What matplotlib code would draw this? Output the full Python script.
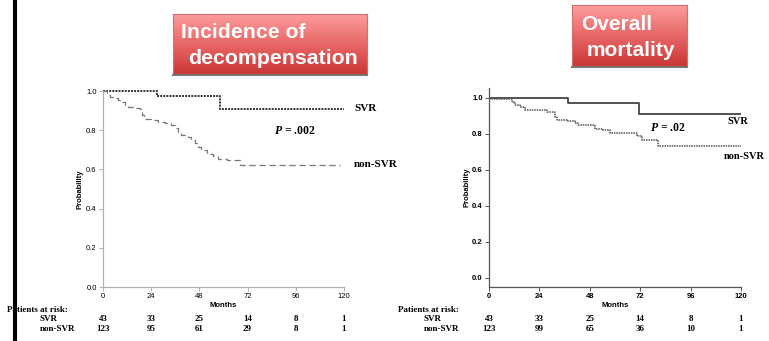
import numpy as np
import matplotlib
matplotlib.use("Agg")
import matplotlib.pyplot as plt
from matplotlib.colors import LinearSegmentedColormap

W, H = 769, 341

# left panel: incidence of decompensation
dec_svr_t = [0, 27, 58.4, 120]
dec_svr_s = [1.0, 0.973, 0.91, 0.91]
dec_non_t = [0, 1.8, 3.5, 5.1, 7.6, 9.5, 11, 12.6, 16, 18.4, 19.3, 20.4, 24, 27.5, 31, 34,
             36, 37.5, 39, 42.5, 44, 46, 47.5, 49, 51.6, 55, 57.4, 61.6, 68.4, 118]
dec_non_s = [1.0, 0.98, 0.97, 0.963, 0.954, 0.945, 0.925, 0.918, 0.912, 0.908, 0.878, 0.857,
             0.85, 0.843, 0.835, 0.827, 0.81, 0.79, 0.775, 0.767, 0.75, 0.733, 0.716, 0.70,
             0.68, 0.67, 0.653, 0.648, 0.625, 0.625]

# right panel: overall mortality
mor_svr_t = [0, 37.7, 71.6, 120]
mor_svr_s = [1.0, 0.972, 0.908, 0.908]
mor_non_t = [0, 11, 12.4, 14.8, 17, 27.4, 31.4, 32.2, 37, 41, 42.5, 50.5, 54.5, 57.6, 70.3,
             72.7, 80.7, 120]
mor_non_s = [0.995, 0.975, 0.963, 0.95, 0.935, 0.92, 0.894, 0.88, 0.87, 0.863, 0.848, 0.83,
             0.82, 0.806, 0.786, 0.766, 0.733, 0.733]

months = [0, 24, 48, 72, 96, 120]
dec_risk_svr = [43, 33, 25, 14, 8, 1]
dec_risk_non = [123, 95, 61, 29, 8, 1]
mor_risk_svr = [43, 33, 25, 14, 8, 1]
mor_risk_non = [123, 99, 65, 36, 10, 1]

SANS = "Liberation Sans"
SERIF = "Liberation Serif"
plt.rcParams["mathtext.fontset"] = "custom"
plt.rcParams["mathtext.it"] = "Liberation Serif:italic:bold"
plt.rcParams["mathtext.rm"] = "Liberation Serif:bold"

fig = plt.figure(figsize=(W / 100, H / 100), dpi=100)


def px(x, y):
    # pixel coords (top-left origin) -> figure fraction
    return x / W, 1 - y / H


def box(x0, y0, x1, y1):
    return [x0 / W, 1 - y1 / H, (x1 - x0) / W, (y1 - y0) / H]


def km_axes(rect, ylim, spine_col, tick_bold, ypad):
    ax = fig.add_axes(rect)
    ax.set_xlim(0, 120)
    ax.set_ylim(*ylim)
    for s in ["top", "right"]:
        ax.spines[s].set_visible(False)
    for s in ["left", "bottom"]:
        ax.spines[s].set_color(spine_col)
        ax.spines[s].set_linewidth(0.9)
    ax.set_xticks(months)
    ax.set_yticks([0, 0.2, 0.4, 0.6, 0.8, 1.0])
    ax.set_yticklabels(["0.0", "0.2", "0.4", "0.6", "0.8", "1.0"])
    ax.tick_params(length=3, width=0.7, color=spine_col, pad=1.5, labelsize=5.5)
    for lab in ax.get_xticklabels() + ax.get_yticklabels():
        lab.set_family(SANS)
        if tick_bold:
            lab.set_weight("bold")
    ax.set_ylabel("Probability", fontsize=5.5, fontweight="bold", family=SANS, labelpad=ypad)
    ax.set_xlabel("Months", fontsize=5.5, fontweight="bold", family=SANS, labelpad=1)
    return ax


# ---- left panel ----
ax1 = km_axes(box(103, 91, 344, 287), (0, 1.0), "#b0b0b0", False, 2)
ax1.step(dec_svr_t, dec_svr_s, where="post", color="#333333", lw=1.4, ls=(0, (1, 0.6)),
         clip_on=False)
ax1.step(dec_non_t, dec_non_s, where="post", color="#777777", lw=0.9, ls=(0, (5, 3)),
         clip_on=False)
ax1.text(125, 0.91, "SVR", fontsize=8, fontweight="bold", family=SERIF, va="center")
ax1.text(125, 0.625, "non-SVR", fontsize=8, fontweight="bold", family=SERIF, va="center")
ax1.text(95.6, 0.796, r"$P$ = .002", fontsize=8.5, fontweight="bold",
         family=SERIF, ha="center", va="center")

# ---- right panel ----
ax2 = km_axes(box(489, 88, 741, 287), (-0.05, 1.055), "#555555", True, 1.5)
ax2.step(mor_svr_t, mor_svr_s, where="post", color="#444444", lw=1.3)
ax2.step(mor_non_t, mor_non_s, where="post", color="#555555", lw=1.1, ls=(0, (1, 0.6)))
ax2.text(123.5, 0.868, "SVR", fontsize=7.5, fontweight="bold", family=SERIF, ha="right",
         va="center")
ax2.text(131.5, 0.673, "non-SVR", fontsize=7.5, fontweight="bold", family=SERIF, ha="right",
         va="center")
ax2.text(85, 0.835, r"$P$ = .02", fontsize=8.5, fontweight="bold", family=SERIF,
         ha="center", va="center")

# ---- patients at risk ----
def risk_table(x_label, x_group, x_axis0, x_axis1, svr, non):
    fig.text(*px(x_label, 310), "Patients at risk:", fontsize=6.5, fontweight="bold",
             family=SERIF, va="center")
    fig.text(*px(x_group, 319), "SVR", fontsize=6.5, fontweight="bold", family=SERIF,
             va="center")
    fig.text(*px(x_group, 329), "non-SVR", fontsize=6.5, fontweight="bold", family=SERIF,
             va="center")
    for m, a, b in zip(months, svr, non):
        xp = x_axis0 + (x_axis1 - x_axis0) * m / 120
        fig.text(*px(xp, 319), str(a), fontsize=6.5, fontweight="bold", family=SERIF,
                 ha="center", va="center")
        fig.text(*px(xp, 329), str(b), fontsize=6.5, fontweight="bold", family=SERIF,
                 ha="center", va="center")


risk_table(7, 40, 103, 344, dec_risk_svr, dec_risk_non)
risk_table(398, 424, 489, 741, mor_risk_svr, mor_risk_non)

# ---- red title boxes ----
cmap = LinearSegmentedColormap.from_list("red", ["#fd9c9c", "#e86666", "#cc3535"])
grad = np.linspace(0, 1, 64).reshape(-1, 1)


def title_box(x0, y0, x1, y1, lines):
    bx = fig.add_axes(box(x0, y0, x1, y1))
    bx.imshow(grad, aspect="auto", cmap=cmap, extent=(0, 1, 0, 1), origin="upper")
    bx.set_xticks([])
    bx.set_yticks([])
    for s in bx.spines.values():
        s.set_color("#d07070")
        s.set_linewidth(0.8)
    bx.spines["bottom"].set_color("#777777")
    bx.spines["bottom"].set_linestyle((0, (1, 1)))
    bx.spines["bottom"].set_linewidth(1.5)
    for (tx, ty, s, size) in lines:
        fig.text(*px(tx, ty), s, fontsize=size, fontweight="bold", family=SANS,
                 color="white", va="center")


title_box(173, 14, 367, 75, [(181, 33, "Incidence of", 15.3), (188, 58, "decompensation", 15.3)])
title_box(572, 5, 687, 67, [(581, 24, "Overall", 15), (587, 50, "mortality", 15)])

# black vertical bar at left edge
bar = fig.add_axes(box(13, 0, 16, H))
bar.set_facecolor("black")
bar.set_xticks([])
bar.set_yticks([])
bar.set_zorder(10)

fig.savefig("out.png", dpi=100)
